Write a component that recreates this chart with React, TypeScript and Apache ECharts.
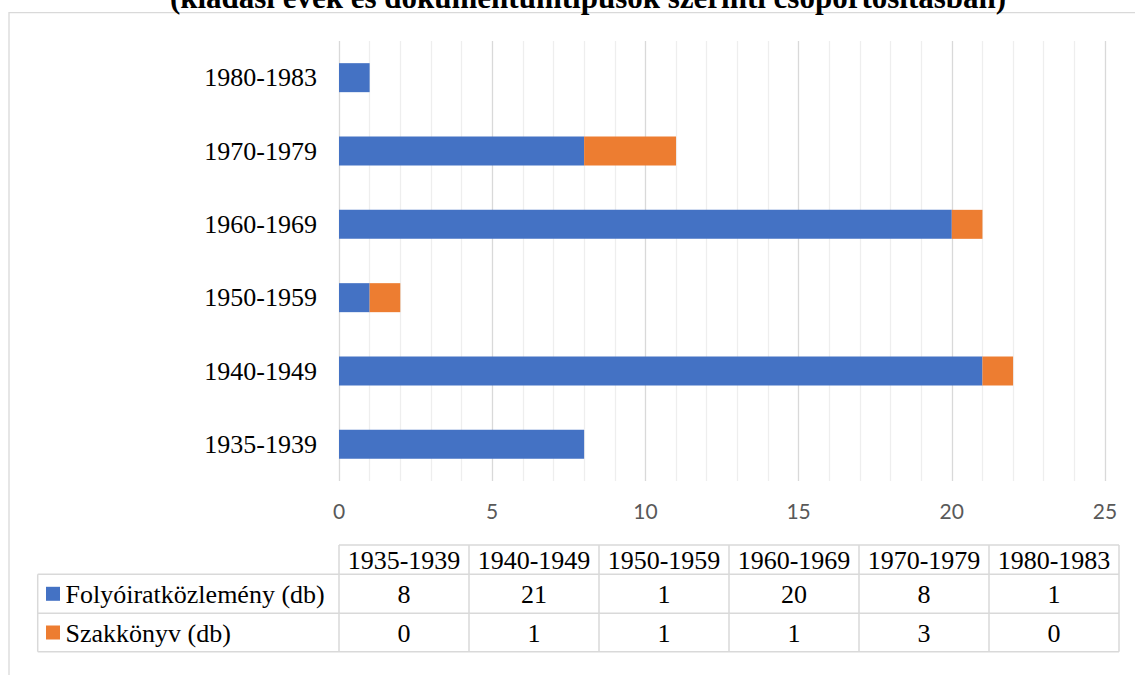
import React, { useEffect, useRef } from "react";
import * as echarts from "echarts";

const categories = ["1935-1939", "1940-1949", "1950-1959", "1960-1969", "1970-1979", "1980-1983"];
const folyoiratValues = [8, 21, 1, 20, 8, 1];
const szakkonyvValues = [0, 1, 1, 1, 3, 0];
const seriesNames = ["Folyóiratközlemény (db)", "Szakkönyv (db)"];
const seriesColors = ["#4472C4", "#ED7D31"];
const xTicks = [0, 5, 10, 15, 20, 25];
const titleText = "(kiadási évek és dokumentumtípusok szerinti csoportosításban)";

const SERIF = "Liberation Serif";
const BORDER = "#d9d9d9";

function buildTable() {
  const els: any[] = [];
  const colLeft = 339;
  const colW = 130;
  const right = colLeft + colW * categories.length;
  const legLeft = 37.7;
  const yTop = 545;
  const yH = 574.3;
  const yR1 = 613.3;
  const yB = 651.7;
  const line = (x1: number, y1: number, x2: number, y2: number) => ({
    type: "line",
    shape: { x1, y1, x2, y2 },
    style: { stroke: BORDER, lineWidth: 1.5 },
    silent: true,
  });
  els.push(line(colLeft, yTop, right, yTop));
  els.push(line(legLeft, yH, right, yH));
  els.push(line(legLeft, yR1, right, yR1));
  els.push(line(legLeft, yB, right, yB));
  els.push(line(legLeft, yH, legLeft, yB));
  for (let i = 0; i <= categories.length; i++) {
    els.push(line(colLeft + i * colW, yTop, colLeft + i * colW, yB));
  }
  const txt = (t: string, x: number, y: number, align = "center") => ({
    type: "text",
    x,
    y,
    style: {
      text: t,
      fontFamily: SERIF,
      fontSize: 26,
      fill: "#000",
      align,
      verticalAlign: "middle",
    },
    silent: true,
  });
  categories.forEach((c, i) => {
    els.push(txt(c, colLeft + colW * (i + 0.5), (yTop + yH) / 2 + 0.5));
    els.push(txt(String(folyoiratValues[i]), colLeft + colW * (i + 0.5), (yH + yR1) / 2 + 0.5));
    els.push(txt(String(szakkonyvValues[i]), colLeft + colW * (i + 0.5), (yR1 + yB) / 2 + 0.5));
  });
  const rowsY = [(yH + yR1) / 2, (yR1 + yB) / 2];
  seriesNames.forEach((n, k) => {
    els.push({
      type: "rect",
      shape: { x: 46, y: rowsY[k] - 7, width: 14, height: 14 },
      style: { fill: seriesColors[k] },
      silent: true,
    });
    els.push(txt(n, 65.5, rowsY[k] + 0.5, "left"));
  });
  return els;
}

export default function App() {
  const ref = useRef<HTMLDivElement>(null);
  useEffect(() => {
    if (!ref.current) return;
    const chart = echarts.init(ref.current, undefined, { renderer: "svg" });
    chart.setOption({
      animation: false,
      backgroundColor: "#fff",
      grid: { left: 339, right: 30, top: 41, bottom: 194, containLabel: false },
      xAxis: {
        type: "value",
        min: xTicks[0],
        max: xTicks[xTicks.length - 1],
        interval: 5,
        axisLine: { show: false },
        axisTick: { show: false },
        axisLabel: {
          color: "#595959",
          fontFamily: "Lato",
          fontSize: 21,
          margin: 19,
        },
        splitLine: { show: true, lineStyle: { color: "#d9d9d9", width: 1.3 } },
        minorTick: { show: false, splitNumber: 5 },
        minorSplitLine: { show: true, lineStyle: { color: "#eeeeee", width: 1.3 } },
      },
      yAxis: {
        type: "category",
        data: categories,
        axisLine: { show: false },
        axisTick: { show: false },
        axisLabel: {
          color: "#000",
          fontFamily: SERIF,
          fontSize: 26,
          margin: 22,
        },
        splitLine: { show: false },
      },
      series: [
        {
          name: seriesNames[0],
          type: "bar",
          stack: "total",
          data: folyoiratValues,
          barWidth: 29,
          itemStyle: { color: seriesColors[0] },
        },
        {
          name: seriesNames[1],
          type: "bar",
          stack: "total",
          data: szakkonyvValues,
          barWidth: 29,
          itemStyle: { color: seriesColors[1] },
        },
      ],
      graphic: [
        {
          type: "rect",
          shape: { x: 9, y: 12.7, width: 1300, height: 800 },
          style: { fill: "none", stroke: BORDER, lineWidth: 1.3 },
          silent: true,
          z: -10,
        },
        {
          type: "text",
          x: 588,
          y: -2.5,
          style: {
            text: titleText,
            fontFamily: SERIF,
            fontWeight: "bold",
            fontSize: 31,
            fill: "#000",
            align: "center",
            verticalAlign: "middle",
          },
          silent: true,
        },
        ...buildTable(),
      ],
    });
    return () => chart.dispose();
  }, []);
  return (
    <div
      ref={ref}
      style={{ position: "absolute", left: 0, top: 0, width: 1135, height: 675 }}
    />
  );
}
